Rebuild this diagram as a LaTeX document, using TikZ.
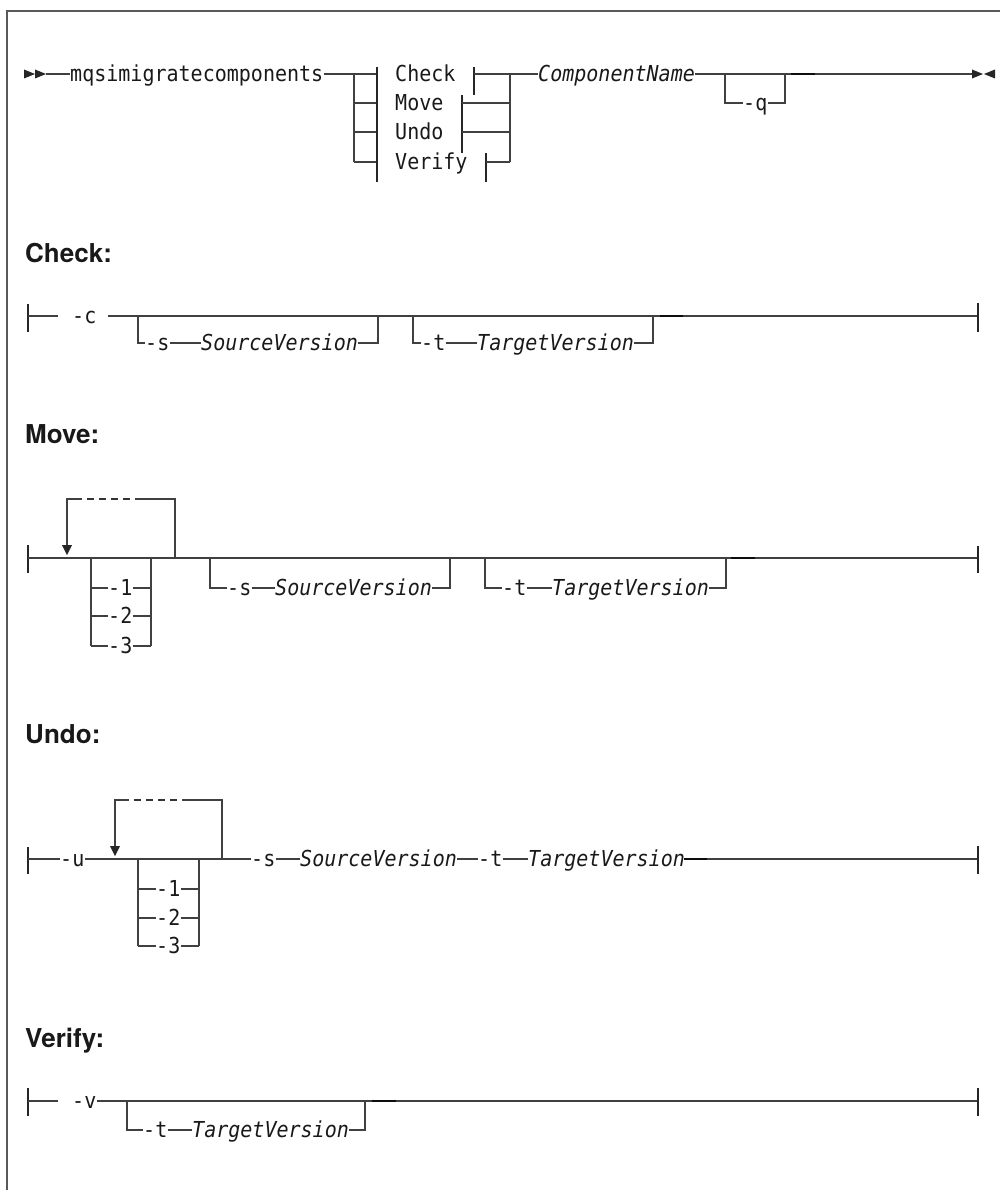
\documentclass[tikz,border=0pt]{standalone}
\usepackage{fontspec}
\newfontfamily\monof[FakeStretch=0.91]{DejaVu Sans Mono}
\newfontfamily\headf{TeX Gyre Heros}
\tikzset{
  ln/.style={line width=1.2pt, draw=black!75},
  frameln/.style={line width=1.5pt, draw=black!65},
  endbar/.style={line width=1.4pt, draw=black!85},
  tdash/.style={line width=2.2pt, draw=black!95},
  loopdash/.style={line width=1.3pt, draw=black!80, dash pattern=on 7pt off 5pt},
  tri/.style={fill=black!85, draw=none},
  mono/.style={font=\monof\fontsize{22}{26}\selectfont, inner sep=0pt, text height=15pt, text depth=0pt, anchor=west, text=black!90},
  monoit/.style={mono, font=\monof\itshape\fontsize{22}{26}\selectfont},
  head/.style={font=\headf\bfseries\fontsize{26}{30}\selectfont, inner sep=0pt, anchor=base west, text=black!90},
}
\begin{document}
\begin{tikzpicture}[x=1pt,y=-1pt]
\useasboundingbox (0,0) rectangle (1000,1190);
\draw[frameln] (1000,11) -- (7,11) -- (7,1190);

% ---------------- main diagram ----------------
\fill[tri] (24,69.5) -- (35,74) -- (24,78.5) -- cycle;
\fill[tri] (35,69.5) -- (46,74) -- (35,78.5) -- cycle;
\coordinate (m0) at (46,74);
\node[mono] (cmd) at (70,74) {mqsimigratecomponents};
\draw[ln] (m0) -- (cmd.west);
\coordinate (rlA) at (354,74);
\coordinate (rlD) at (354,162);
\draw[ln] (cmd.east) -- (rlA);
\draw[ln] (rlA) -- (rlD);
\foreach \yy in {74,103,132,162} {\draw[ln] (354,\yy) -- (377,\yy);}
\draw[endbar] (377,67) -- (377,182);
\node[mono] (rCheck) at (395,74) {Check};
\node[mono] (rMove) at (395,103) {Move};
\node[mono] (rUndo) at (395,132) {Undo};
\node[mono] (rVerify) at (395,162) {Verify};
\draw[endbar] (474,67) -- (474,95);
\draw[endbar] (462,95) -- (462,153);
\draw[endbar] (486,153) -- (486,182);
\coordinate (rrA) at (510,74);
\coordinate (rrD) at (510,162);
\draw[ln] (474,74) -- (rrA);
\draw[ln] (462,103) -- (510,103);
\draw[ln] (462,132) -- (510,132);
\draw[ln] (486,162) -- (rrD);
\draw[ln] (rrA) -- (rrD);
\node[monoit] (cname) at (538,74) {ComponentName};
\coordinate (mEnd) at (972,74);
\draw[ln] (rrA) -- (cname.west);
\draw[ln] (cname.east) -- (mEnd);
\node[mono] (q) at (743,103) {-q};
\draw[ln] (725,74) -- (725,103) -- (q.west);
\draw[ln] (q.east) -- (785,103) -- (785,74);
\draw[tdash] (791,74) -- (815,74);
\fill[tri] (972,69.5) -- (983,74) -- (972,78.5) -- cycle;
\fill[tri] (995,69.5) -- (984,74) -- (995,78.5) -- cycle;

% ---------------- Check ----------------
\node[head] (hCheck) at (25,262) {Check:};
\draw[endbar] (28,304) -- (28,332);
\draw[tdash] (28,316) -- (34,316);
\draw[ln] (28,316) -- (58,316);
\node[mono] (cc) at (72,316) {-c};
\coordinate (cEnd) at (978,316);
\draw[ln] (108,316) -- (cEnd);
\node[mono] (s1) at (145,343) {-s};
\node[monoit] (sv1) at (201,343) {SourceVersion};
\draw[ln] (138,316) -- (138,343) -- (s1.west);
\draw[ln] (s1.east) -- (sv1.west);
\draw[ln] (sv1.east) -- (378,343) -- (378,316);
\node[mono] (t1) at (421,343) {-t};
\node[monoit] (tv1) at (477,343) {TargetVersion};
\draw[ln] (413,316) -- (413,343) -- (t1.west);
\draw[ln] (t1.east) -- (tv1.west);
\draw[ln] (tv1.east) -- (653,343) -- (653,316);
\draw[tdash] (660,316) -- (683,316);
\draw[endbar] (978,303) -- (978,332);

% ---------------- Move ----------------
\node[head] (hMove) at (25,443) {Move:};
\draw[endbar] (28,545) -- (28,573);
\draw[tdash] (28,558) -- (34,558);
\coordinate (mvEnd) at (978,558);
\draw[ln] (28,558) -- (mvEnd);
\draw[ln] (175,558) -- (175,499) -- (135,499);
\draw[loopdash] (87,499) -- (130,499);
\draw[ln] (82,499) -- (67,499) -- (67,546);
\fill[tri] (62,545) -- (72,545) -- (67,555) -- cycle;
\draw[ln] (91,558) -- (91,646);
\draw[ln] (151,558) -- (151,646);
\node[mono] (mv1) at (108,588) {-1};
\node[mono] (mv2) at (108,616) {-2};
\node[mono] (mv3) at (108,646) {-3};
\foreach \nn/\yy in {mv1/588,mv2/616,mv3/646} {
  \draw[ln] (91,\yy) -- (\nn.west);
  \draw[ln] (\nn.east) -- (151,\yy);
}
\node[mono] (s2) at (227,588) {-s};
\node[monoit] (sv2) at (275,588) {SourceVersion};
\draw[ln] (210,558) -- (210,588) -- (s2.west);
\draw[ln] (s2.east) -- (sv2.west);
\draw[ln] (sv2.east) -- (450,588) -- (450,558);
\node[mono] (t2) at (502,588) {-t};
\node[monoit] (tv2) at (552,588) {TargetVersion};
\draw[ln] (485,558) -- (485,588) -- (t2.west);
\draw[ln] (t2.east) -- (tv2.west);
\draw[ln] (tv2.east) -- (726,588) -- (726,558);
\draw[tdash] (731,558) -- (755,558);
\draw[endbar] (978,546) -- (978,573);

% ---------------- Undo ----------------
\node[head] (hUndo) at (25,743) {Undo:};
\draw[endbar] (28,847) -- (28,874);
\draw[tdash] (28,859) -- (34,859);
\node[mono] (u) at (60,859) {-u};
\draw[ln] (28,859) -- (u.west);
\node[mono] (s3) at (251,859) {-s};
\node[monoit] (sv3) at (300,859) {SourceVersion};
\node[mono] (t3) at (478,859) {-t};
\node[monoit] (tv3) at (528,859) {TargetVersion};
\draw[ln] (u.east) -- (s3.west);
\draw[ln] (s3.east) -- (sv3.west);
\draw[ln] (sv3.east) -- (t3.west);
\draw[ln] (t3.east) -- (tv3.west);
\coordinate (uEnd) at (978,859);
\draw[ln] (tv3.east) -- (uEnd);
\draw[tdash] (684,859) -- (707,859);
\draw[ln] (222,859) -- (222,800) -- (182,800);
\draw[loopdash] (134,800) -- (177,800);
\draw[ln] (129,800) -- (115,800) -- (115,847);
\fill[tri] (110,846) -- (120,846) -- (115,856) -- cycle;
\draw[ln] (138,859) -- (138,946);
\draw[ln] (199,859) -- (199,946);
\node[mono] (un1) at (156,889) {-1};
\node[mono] (un2) at (156,918) {-2};
\node[mono] (un3) at (156,946) {-3};
\foreach \nn/\yy in {un1/889,un2/918,un3/946} {
  \draw[ln] (138,\yy) -- (\nn.west);
  \draw[ln] (\nn.east) -- (199,\yy);
}
\draw[endbar] (978,846) -- (978,874);

% ---------------- Verify ----------------
\node[head] (hVerify) at (25,1047) {Verify:};
\draw[endbar] (28,1088) -- (28,1116);
\draw[tdash] (28,1101) -- (34,1101);
\draw[ln] (28,1101) -- (58,1101);
\node[mono] (v) at (72,1101) {-v};
\coordinate (vEnd) at (978,1101);
\draw[ln] (v.east) -- (vEnd);
\node[mono] (t4) at (143,1130) {-t};
\node[monoit] (tv4) at (192,1130) {TargetVersion};
\draw[ln] (127,1101) -- (127,1130) -- (t4.west);
\draw[ln] (t4.east) -- (tv4.west);
\draw[ln] (tv4.east) -- (365,1130) -- (365,1101);
\draw[tdash] (372,1101) -- (396,1101);
\draw[endbar] (978,1088) -- (978,1116);
\end{tikzpicture}
\end{document}
